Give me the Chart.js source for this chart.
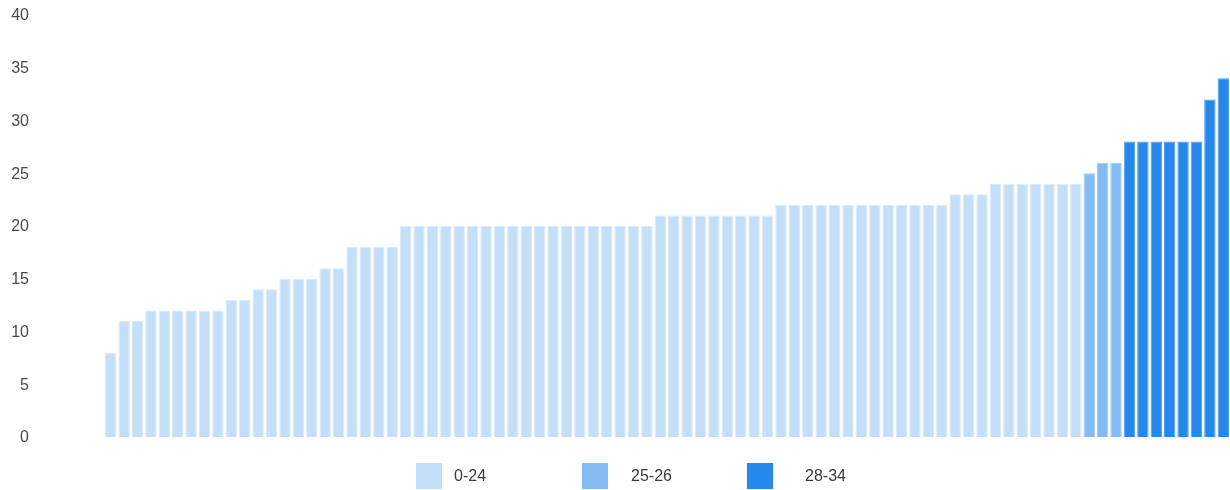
<!DOCTYPE html>
<html>
<head>
<meta charset="utf-8">
<script src="https://cdn.jsdelivr.net/npm/chart.js@4/dist/chart.umd.min.js"></script>
<style>
  html, body { margin: 0; padding: 0; background: #fff; }
  #wrap { width: 1230px; height: 490px; position: relative; }
</style>
</head>
<body>
<div id="wrap"><canvas id="c"></canvas></div>
<script>
// ---- data ----
const values = [
  8, 11, 11, 12, 12, 12, 12, 12, 12, 13, 13, 14, 14, 15, 15, 15, 16, 16,
  18, 18, 18, 18,
  20, 20, 20, 20, 20, 20, 20, 20, 20, 20, 20, 20, 20, 20, 20, 20, 20, 20, 20,
  21, 21, 21, 21, 21, 21, 21, 21, 21,
  22, 22, 22, 22, 22, 22, 22, 22, 22, 22, 22, 22, 22,
  23, 23, 23,
  24, 24, 24, 24, 24, 24, 24,
  25, 26, 26,
  28, 28, 28, 28, 28, 28, 32, 34
];
const categories = values.map((_, i) => String(i + 1));
const groupNames = ['0-24', '25-26', '28-34'];
const groupMin = [0, 25, 28];
const groupMax = [24, 26, 34];
const yTicks = [0, 5, 10, 15, 20, 25, 30, 35, 40];

// ---- styles ----
const colors = ['#c6dff8', '#83bbf4', '#2688eb'];
const borders = ['#d9eafb', '#a0cbf6', '#4f9ef0'];

const datasets = groupNames.map((name, g) => ({
  label: name,
  data: values.map(v => (v >= groupMin[g] && v <= groupMax[g]) ? v : null),
  backgroundColor: colors[g],
  borderColor: borders[g],
  borderWidth: 1,
  barPercentage: 0.85,
  categoryPercentage: 1.0
}));

const legendPlugin = {
  id: 'customLegend',
  afterDraw(chart) {
    const ctx = chart.ctx;
    const boxX = [416, 582, 747];
    const textX = [454, 631, 805];
    ctx.save();
    ctx.font = '16px "Liberation Sans", Arial, sans-serif';
    ctx.textBaseline = 'middle';
    ctx.textAlign = 'left';
    chart.data.datasets.forEach((ds, i) => {
      ctx.fillStyle = ds.backgroundColor;
      ctx.fillRect(boxX[i], 463, 26, 26);
      ctx.fillStyle = '#3a3a3a';
      ctx.fillText(ds.label, textX[i], 477);
    });
    ctx.restore();
  }
};

new Chart(document.getElementById('c'), {
  type: 'bar',
  data: { labels: categories, datasets },
  options: {
    responsive: true,
    maintainAspectRatio: false,
    animation: false,
    layout: { padding: { top: 15, right: 0, bottom: 53, left: 0 } },
    plugins: { legend: { display: false }, tooltip: { enabled: false } },
    scales: {
      x: { display: false, stacked: true, grid: { display: false } },
      y: {
        stacked: true,
        min: 0, max: 40,
        afterFit(s) { s.width = 104; s.paddingTop = 0; s.paddingBottom = 0; },
        afterBuildTicks(s) { s.ticks = yTicks.map(v => ({ value: v })); },
        border: { display: false },
        grid: { display: false, drawTicks: false },
        ticks: {
          padding: 75,
          labelOffset: 1,
          color: '#4a4a4a',
          font: { family: '"Liberation Sans", Arial, sans-serif', size: 16 }
        }
      }
    }
  },
  plugins: [legendPlugin]
});
</script>
</body>
</html>
